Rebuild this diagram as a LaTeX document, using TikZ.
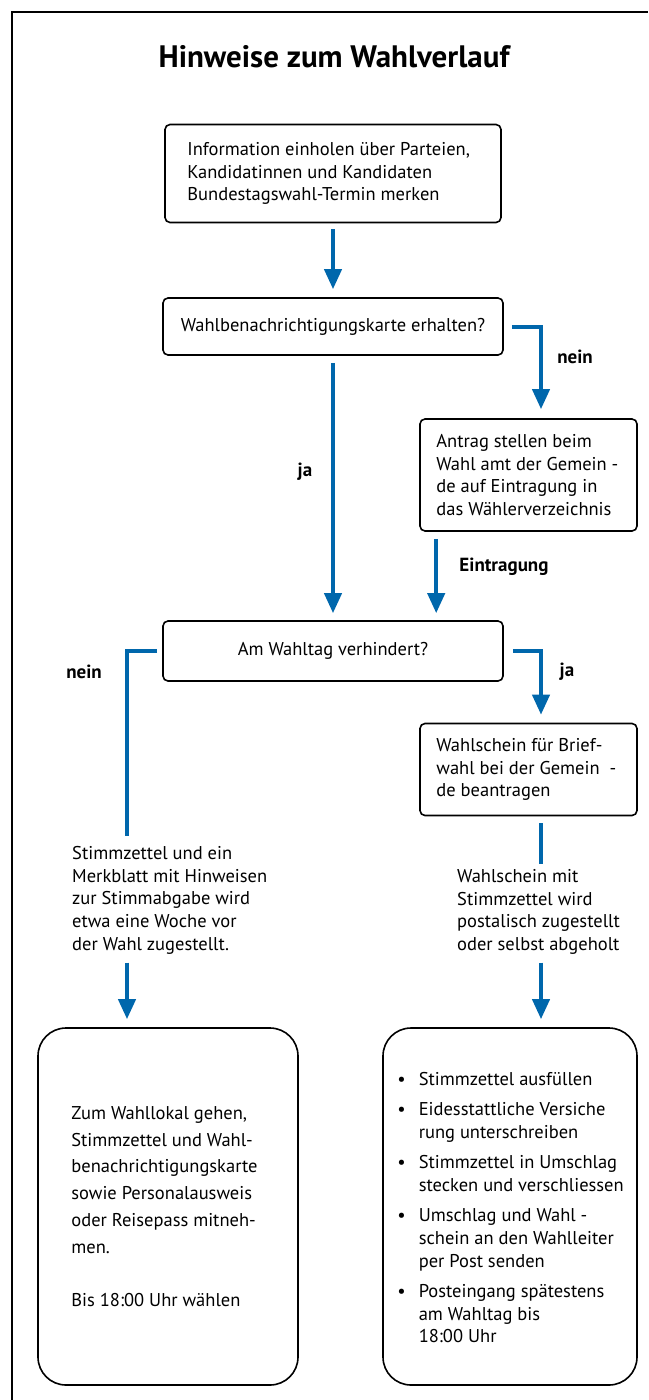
\documentclass[tikz,border=0pt]{standalone}
\usepackage{fontspec}
\setmainfont{PT Sans}
\usepackage{tikz}
\usetikzlibrary{arrows.meta,positioning}

\definecolor{wahlblau}{RGB}{0,103,172}

\tikzset{
  kasten/.style={draw, line width=1.6pt, rounded corners=5pt, inner sep=0pt},
  grosskasten/.style={kasten, rounded corners=28pt, minimum height=357pt},
  inhalt/.style={inner sep=0pt, align=left, font=\fontsize{18.5}{22.5}\selectfont},
  fluss/.style={draw=wahlblau, line width=4pt, -{Triangle[width=17pt,length=20pt]}},
  strich/.style={draw=wahlblau, line width=4pt},
  marke/.style={font=\fontsize{19}{22}\selectfont\bfseries},
}

\begin{document}
\begin{tikzpicture}[x=1pt, y=-1pt]
  \useasboundingbox (0,0) rectangle (648,1400);

  % Rahmen
  \draw[line width=2pt] (12,1400) -- (12,12) -- (648,12);

  % Titel
  \node (titel) at (334,57) {\fontsize{31}{36}\selectfont\bfseries Hinweise zum Wahlverlauf};

  % Spalten der Pfeile
  \coordinate (xl) at (127,0);
  \coordinate (xr) at (541,0);

  % Kaesten
  \node[kasten, minimum width=336pt, minimum height=98pt] (info) at (333,173.5) {};
  \node[inhalt, right=23pt of info.west] (infotext)
    {Information einholen über Parteien,\\Kandidatinnen und Kandidaten\\Bundestagswahl-Termin merken};

  \node[kasten, minimum width=340pt, minimum height=57pt, font=\fontsize{18.5}{22.5}\selectfont]
    (karte) at (333,326.5) {Wahlbenachrichtigungskarte erhalten?};

  \node[kasten, minimum width=217pt, minimum height=112pt] (antrag) at (528.5,475) {};
  \node[inhalt, right=17pt of antrag.west] (antragtext)
    {Antrag stellen beim\\Wahl amt der Gemein -\\de auf Eintragung in\\das Wählerverzeichnis};

  \node[kasten, minimum width=340pt, minimum height=60pt, font=\fontsize{18.5}{22.5}\selectfont]
    (verhindert) at (333,651) {Am Wahltag verhindert?};

  \node[kasten, minimum width=217pt, minimum height=92pt] (brief) at (528.5,769.5) {};
  \node[inhalt, right=17pt of brief.west] (brieftext)
    {Wahlschein für Brief-\\wahl bei der Gemein\ \ -\\de beantragen};

  % freie Texte
  \node[inhalt, anchor=north west, font=\fontsize{18.5}{22.75}\selectfont] (zettel) at (72,846)
    {Stimmzettel und ein\\Merkblatt mit Hinweisen\\zur Stimmabgabe wird\\etwa eine Woche vor\\der Wahl zugestellt.};
  \node[inhalt, anchor=north west, font=\fontsize{18.5}{22.75}\selectfont] (schein) at (457,869)
    {Wahlschein mit\\Stimmzettel wird\\postalisch zugestellt\\oder selbst abgeholt};

  % grosse Kaesten
  \node[grosskasten, minimum width=260pt] (lokal) at (168,1206.5) {};
  \node[inhalt, right=34pt of lokal.west, font=\fontsize{18.5}{26.75}\selectfont] (lokaltext)
    {Zum Wahllokal gehen,\\Stimmzettel und Wahl-\\benachrichtigungskarte\\sowie Personalausweis\\oder Reisepass mitneh-\\men.\\[26.75pt]Bis 18:00 Uhr wählen};

  \node[grosskasten, minimum width=254pt] (post) at (510,1206.5) {};
  \node[inhalt, right=15pt of post.west, yshift=-3pt, font=\fontsize{18.5}{22.75}\selectfont] (posttext)
    {\begin{tabular}{@{}l@{\hspace{13pt}}l@{}}
     \textbullet & Stimmzettel ausfüllen\\[7.5pt]
     \textbullet & Eidesstattliche Versiche\\
                 & rung unterschreiben\\[7.5pt]
     \textbullet & Stimmzettel in Umschlag\\
                 & stecken und verschliessen\\[7.5pt]
     \textbullet & Umschlag und Wahl -\\
                 & schein an den Wahlleiter\\
                 & per Post senden\\[7.5pt]
     \textbullet & Posteingang spätestens\\
                 & am Wahltag bis\\
                 & 18:00 Uhr
     \end{tabular}};

  % Pfeile
  \draw[fluss, shorten <=6pt, shorten >=8pt] (info.south) -- (karte.north);
  \draw[fluss, shorten <=8pt, shorten >=9pt] (karte.east) -| (antrag.north -| xr);
  \node[marke] (nein1) at (575,357) {nein};
  \draw[fluss, shorten <=7pt, shorten >=7pt] (karte.south) -- (verhindert.north);
  \node[marke] (ja1) at (305,472) {ja};
  \draw[fluss, shorten <=7pt, shorten >=7pt] ([xshift=17pt]antrag.south west)
    -- ([xshift=17pt]antrag.south west |- verhindert.north);
  \node[marke] (eintrag) at (504,567) {Eintragung};

  \draw[strich, shorten <=5pt, shorten >=10pt] (verhindert.west) -| (zettel.north -| xl);
  \node[marke] (nein2) at (84,672) {nein};
  \draw[fluss, shorten <=9pt, shorten >=8pt] (verhindert.east) -| (brief.north -| xr);
  \node[marke] (ja2) at (567,672) {ja};
  \draw[strich, shorten <=7pt, shorten >=5pt] (brief.south -| xr) -- (schein.north -| xr);

  \draw[fluss, shorten <=8pt, shorten >=8pt] (zettel.south -| xl) -- (lokal.north -| xl);
  \draw[fluss, shorten <=8pt, shorten >=8pt] (schein.south -| xr) -- (post.north -| xr);
\end{tikzpicture}
\end{document}
